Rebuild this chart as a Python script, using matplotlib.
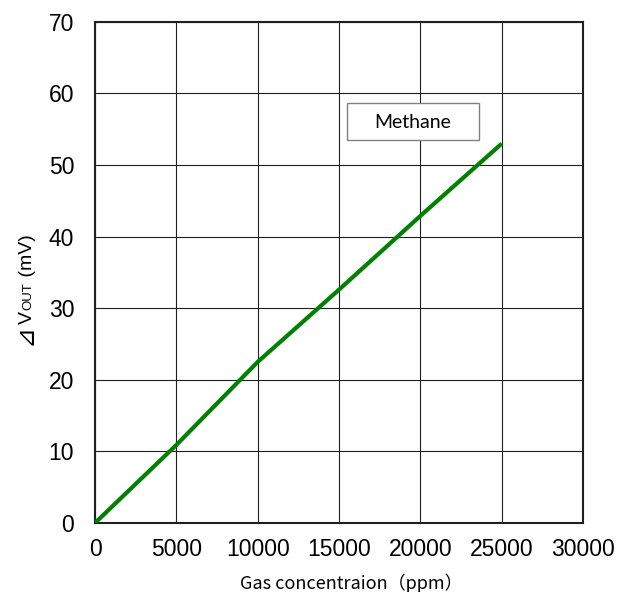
import numpy as np
import matplotlib
matplotlib.use("Agg")
import matplotlib.pyplot as plt
from matplotlib.patches import Rectangle

# data
conc_ppm = [0, 5000, 10000, 15000, 20000, 25000]
dvout_mv = [0.0, 10.9, 22.5, 32.6, 42.9, 53.0]
gas_name = "Methane"
x_ticks = [0, 5000, 10000, 15000, 20000, 25000, 30000]
y_ticks = [0, 10, 20, 30, 40, 50, 60, 70]

plt.rcParams['font.family'] = ['Liberation Sans', 'DejaVu Sans']

fig = plt.figure(figsize=(6.19, 5.92), dpi=100)
ax = fig.add_axes([0.1535, 0.1166, 0.7885, 0.8464])

ax.plot(conc_ppm, dvout_mv, color='#008000', lw=3.0, solid_capstyle='butt', zorder=3)

ax.set_xlim(0, 30000)
ax.set_ylim(0, 70)
ax.set_xticks(x_ticks)
ax.set_yticks(y_ticks)
ax.set_xticklabels([str(v) for v in x_ticks])
ax.set_yticklabels([str(v) for v in y_ticks])
ax.tick_params(axis='both', length=0, labelsize=16.5, colors='black')
ax.tick_params(axis='x', pad=11)
ax.tick_params(axis='y', pad=15)
ax.grid(True, color='#202020', lw=0.8)
ax.set_axisbelow(True)
for s in ax.spines.values():
    s.set_linewidth(1.5)
    s.set_color('#202020')

# x label
fig.text(0.568, 3 / 592, "Gas concentraion（ppm）", ha='center', va='baseline',
         family=['Noto Sans CJK JP', 'DejaVu Sans'], fontsize=13)

# y label built from pieces on one rotated baseline: ⊿ V OUT (mV)
parts = [("⊿", 18, 'DejaVu Sans'), ("V", 14, 'Liberation Sans'),
         ("OUT", 9.5, 'Liberation Sans'), (" (mV)", 14, 'Liberation Sans')]
renderer = fig.canvas.get_renderer()
bx, by = 31.5, 592 - 345  # pixels, baseline x and start y
for s, fs, fam in parts:
    t = fig.text(bx / 619, by / 592, s, rotation=90, rotation_mode='anchor',
                 ha='left', va='baseline', fontsize=fs, family=[fam, 'DejaVu Sans'])
    by += t.get_window_extent(renderer).height + 0.5

# label box
ax.add_patch(Rectangle((15470, 53.5), 8150, 5.2, facecolor='white', edgecolor='#808080',
                       lw=1.0, zorder=4))
ax.text(19545, 56.0, gas_name, ha='center', va='center', fontsize=14,
        family=['Lato', 'DejaVu Sans'], zorder=5)

fig.savefig("out.png", dpi=100)
